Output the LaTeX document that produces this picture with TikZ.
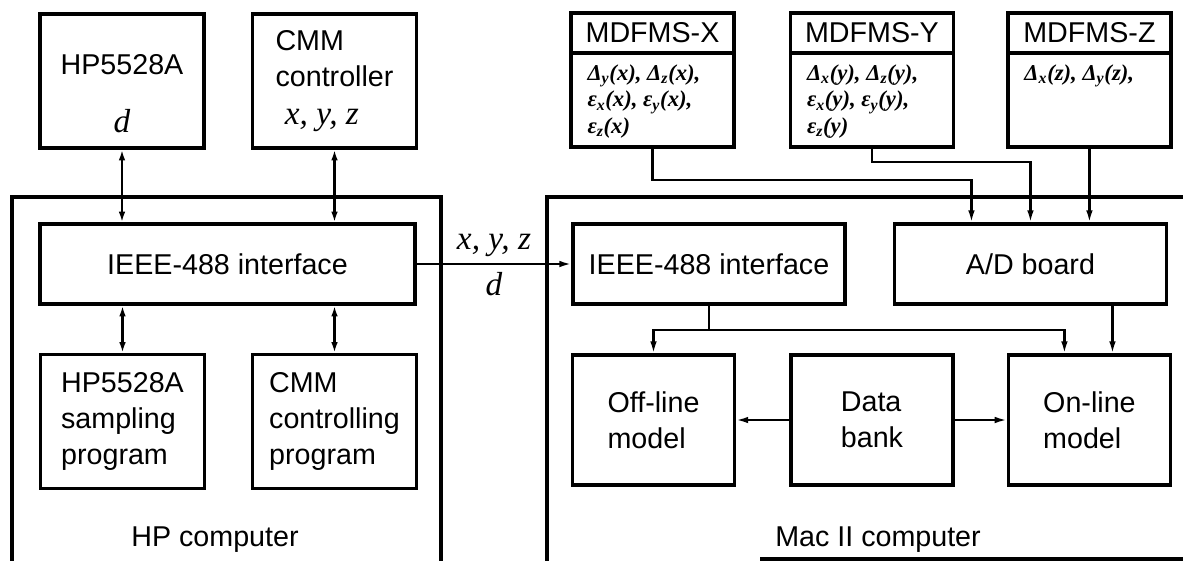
\documentclass[tikz,border=0pt]{standalone}
\usepackage{fontspec}
\setmainfont{Liberation Sans}
\newfontfamily\tms{Liberation Serif}
\usetikzlibrary{arrows.meta,positioning}

\newcommand{\dsub}[2]{Δ\textsubscript{#1}(#2)}
\newcommand{\esub}[2]{ε\textsubscript{#1}(#2)}

\begin{document}
\begin{tikzpicture}[
  x=0.75pt, y=-0.75pt,
  box/.style={draw, line width=2.6pt, inner sep=0pt,
              font=\fontsize{21.5}{27}\selectfont, align=left},
  unit/.style={box, minimum width=123pt, minimum height=100.5pt},
  bus/.style={box, minimum height=60pt, align=center},
  model/.style={box, minimum width=121.5pt, minimum height=97.5pt},
  sensor/.style={box, minimum width=122.25pt, minimum height=100.5pt},
  title/.style={box, minimum width=122.25pt, minimum height=30pt, align=center},
  body/.style={inner sep=0pt, align=left,
               font=\fontsize{17}{20}\selectfont\tms\bfseries\itshape},
  lbl/.style={font=\fontsize{21.5}{27}\selectfont},
  ital/.style={font=\fontsize{25}{28}\selectfont\tms\itshape},
  frame/.style={line width=2.6pt},
  conn/.style={line width=1.6pt},
  arr/.style={conn, -{Latex[length=9pt,width=5pt]}},
  darr/.style={conn, {Latex[length=8pt,width=5pt]}-{Latex[length=8pt,width=5pt]}}
]
\useasboundingbox (0,0) rectangle (1183,561);

% HP side
\draw[frame] (12,561) -- (12,197) -- (441,197) -- (441,561);
\node[lbl] (hpcomp) at (215,540) {HP computer};

\node[unit] (hpA) at (122,81) {};
\node[lbl] (hpAname) at (122,65) {HP5528A};
\node[ital] (hpAd) at (122,121) {d};
\node[unit] (cmmA) at (334.5,81)
      {CMM\\controller\\[1pt]\hspace*{7pt}{\tms\itshape\fontsize{25}{27}\selectfont x, y, z}};

\node[bus, minimum width=281.25pt] (ifL) at (227.5,264) {IEEE-488 interface};

\node[unit] (hpP) at (122.5,421.5) {HP5528A\\sampling\\program};
\node[unit] (cmmP) at (334.5,421.5) {CMM\\controlling\\program};

\draw[darr] (hpA.south) -- (hpA.south |- ifL.north);
\draw[darr] (cmmA.south) -- (cmmA.south |- ifL.north);
\draw[darr] (ifL.south -| hpP.north) -- (hpP.north);
\draw[darr] (ifL.south -| cmmP.north) -- (cmmP.north);

% Mac side
\draw[frame] (547,561) -- (547,197) -- (1183,197);
\draw[frame] (760,559) -- (1183,559);
\node[lbl] (maccomp) at (878,540) {Mac II computer};

\node[bus, minimum width=204pt] (ifR) at (709,264) {IEEE-488 interface};
\node[bus, minimum width=204pt, right=34.5pt of ifR] (ad) {A/D board};

\draw[arr] (ifL.east) -- node[ital, above=1pt] (xyz) {x, y, z}
                         node[ital, below=2pt] (dd) {d} (ifR.west);

% three sensor boxes
\node[sensor] (mx) at (652.5,80) {};
\node[title, anchor=north] (mxT) at (mx.north) {MDFMS-X};
\node[body, anchor=north west] (mxB) at ([xshift=13.5pt,yshift=-7pt]mxT.south west)
      {\dsub{y}{x}, \dsub{z}{x},\\\esub{x}{x}, \esub{y}{x},\\\esub{z}{x}};

\node[sensor, right=39.75pt of mx] (my) {};
\node[title, anchor=north] (myT) at (my.north) {MDFMS-Y};
\node[body, anchor=north west] (myB) at ([xshift=13.5pt,yshift=-7pt]myT.south west)
      {\dsub{x}{y}, \dsub{z}{y},\\\esub{x}{y}, \esub{y}{y},\\\esub{z}{y}};

\node[sensor, right=38.25pt of my] (mz) {};
\node[title, anchor=north] (mzT) at (mz.north) {MDFMS-Z};
\node[body, anchor=north west] (mzB) at ([xshift=13.5pt,yshift=-7pt]mzT.south west)
      {\dsub{x}{z}, \dsub{y}{z},};

\draw[arr] (mx.south) -- ++(0,31) -| ([xshift=-44.25pt]ad.north);
\draw[arr] (my.south) -- ++(0,13) -| (ad.north);
\draw[arr] (mz.south) -- (mz.south |- ad.north);

% models
\node[model] (off) at (653.5,420) {Off-line\\model};
\node[model, right=39.75pt of off] (bank) {Data\\bank};
\node[model, right=39pt of bank] (on) {On-line\\model};

\coordinate (split) at (709,330);
\draw[conn] (ifR.south) -- (split);
\draw[arr] (split) -| (off.north);
\draw[arr] (split) -| ([xshift=-18.75pt]on.north);
\draw[arr] ([xshift=61.5pt]ad.south) -- ([xshift=61.5pt]ad.south |- on.north);

\draw[arr] (bank.west) -- (off.east);
\draw[arr] (bank.east) -- (on.west);

\end{tikzpicture}
\end{document}
